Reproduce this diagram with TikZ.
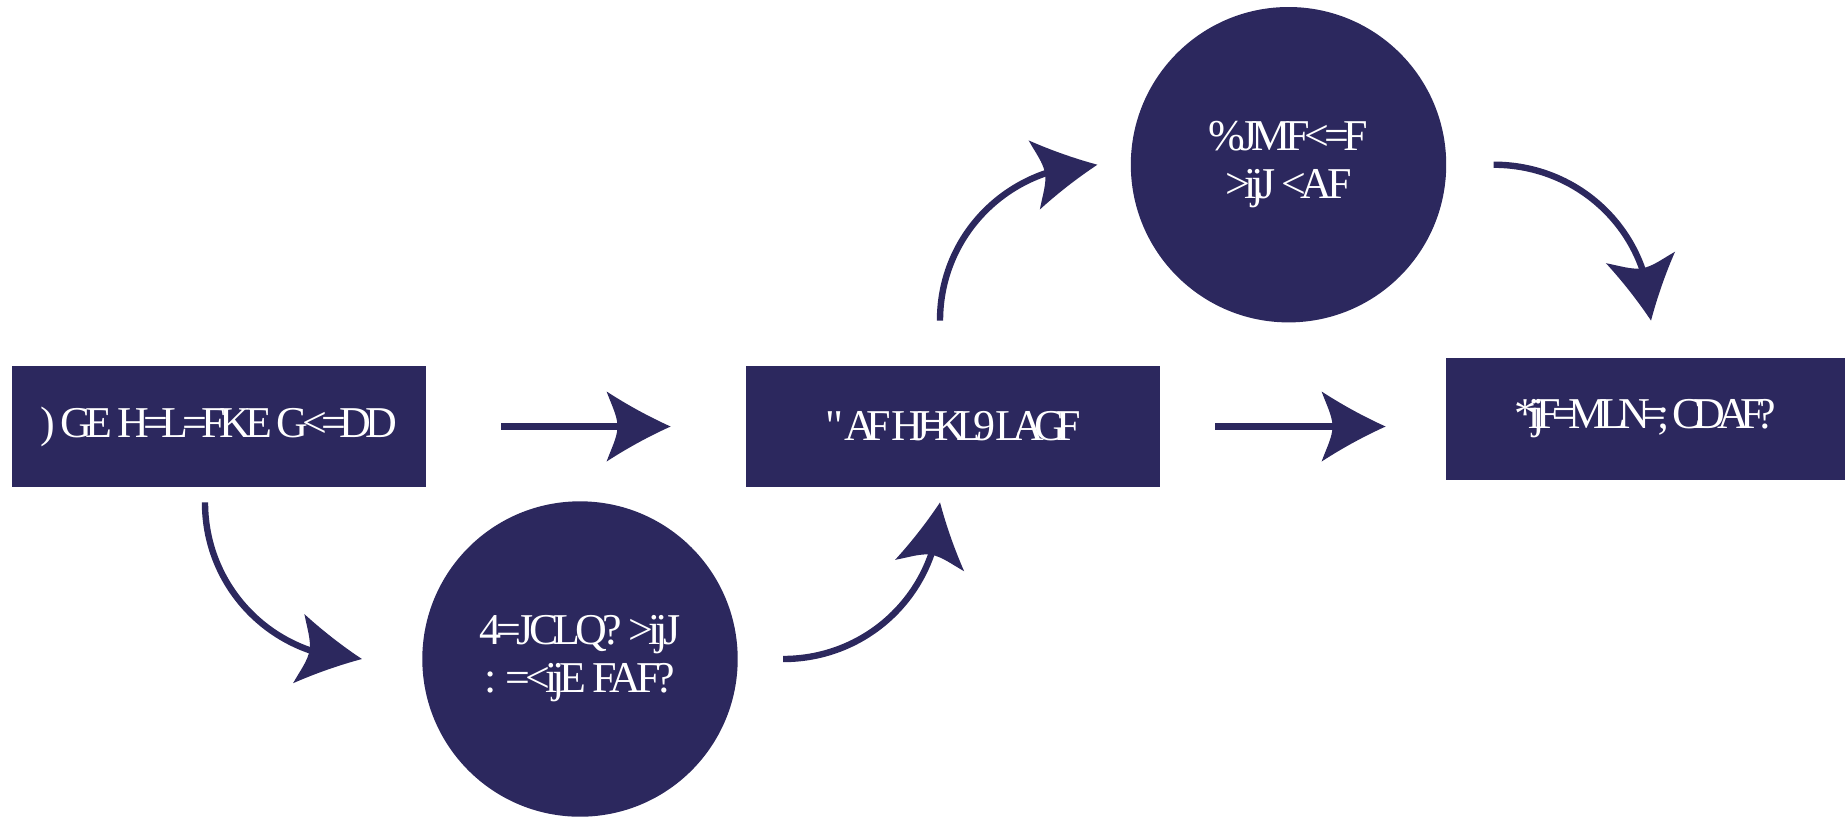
\documentclass[tikz,border=0pt]{standalone}
\usepackage{fontspec}
\setmainfont{Liberation Serif}[Ligatures=TeXOff]
\usetikzlibrary{arrows.meta,bending}
\definecolor{navy}{RGB}{44,40,94}

% swept arrow head with hollow sides
\pgfdeclarearrow{
  name = Swoop,
  parameters = {\the\pgfarrowlength,\the\pgfarrowwidth},
  setup code = {
    \pgfarrowssettipend{\pgfarrowlength}
    \pgfarrowssetbackend{0pt}
    \pgfarrowssetlineend{.25\pgfarrowlength}
    \pgfarrowssetvisualbackend{.17\pgfarrowlength}
    \pgfarrowsupperhullpoint{\pgfarrowlength}{0pt}
    \pgfarrowsupperhullpoint{0pt}{.5\pgfarrowwidth}
    \pgfarrowssavethe\pgfarrowlength
    \pgfarrowssavethe\pgfarrowwidth
  },
  drawing code = {
    \pgfpathmoveto{\pgfqpoint{\pgfarrowlength}{0pt}}
    \pgfpathcurveto{\pgfqpoint{.66\pgfarrowlength}{.14\pgfarrowwidth}}{\pgfqpoint{.32\pgfarrowlength}{.31\pgfarrowwidth}}{\pgfqpoint{0pt}{.5\pgfarrowwidth}}
    \pgfpathcurveto{\pgfqpoint{.08\pgfarrowlength}{.3\pgfarrowwidth}}{\pgfqpoint{.17\pgfarrowlength}{.15\pgfarrowwidth}}{\pgfqpoint{.17\pgfarrowlength}{0pt}}
    \pgfpathcurveto{\pgfqpoint{.17\pgfarrowlength}{-.15\pgfarrowwidth}}{\pgfqpoint{.08\pgfarrowlength}{-.3\pgfarrowwidth}}{\pgfqpoint{0pt}{-.5\pgfarrowwidth}}
    \pgfpathcurveto{\pgfqpoint{.32\pgfarrowlength}{-.31\pgfarrowwidth}}{\pgfqpoint{.66\pgfarrowlength}{-.14\pgfarrowwidth}}{\pgfqpoint{\pgfarrowlength}{0pt}}
    \pgfpathclose
    \pgfusepathqfill
  },
  defaults = {length=32pt,width=35pt}
}

\begin{document}
\begin{tikzpicture}[x=0.5pt,y=-0.5pt,
   every node/.style={fill=navy,text=white,align=center,inner sep=0pt,squeeze=-12},
   squeeze/.style={font=\fontsize{22}{24}\selectfont\addfontfeature{LetterSpace=#1}},
   box/.style={rectangle,minimum width=207pt,minimum height=60.5pt},
   disc/.style={circle,minimum size=157.7pt},
   flow/.style={draw=navy,line width=3.2pt,-{Swoop[flex]}}]

\useasboundingbox (0,0) rectangle (1845,816);

\node[box,squeeze=-14] (start) at (219,426.5) {) GE H=L=FKE G<=DD};
\node[box,squeeze=-23] (mid) at (953,426.5) {" AF HJ=KL9 LAGF};
\node[box,squeeze=-19,minimum width=199.5pt,minimum height=61pt] (goal) at (1645.5,419) {*ijF=MLN=; CDAF?};
\node[disc,squeeze=-11] (low) at (580,659) {4=JCLQ? >ijJ\\: =<ijE FAF?};
\node[disc,squeeze=-12] (high) at (1288.5,164.7) {\%JMF<=F\\>ijJ <AF};

% straight steps
\draw[flow,shorten <=37.5pt,shorten >=37.5pt] (start.east) -- (mid.west);
\draw[flow,shorten <=27.5pt,shorten >=30pt] (mid.east) -- (goal.west |- mid.east);

% detour below
\draw[flow] ([xshift=-7pt,yshift=-7.5pt]start.south) .. controls +(0,87) and +(-87,0) .. ([xshift=-30pt]low.west);
\draw[flow] ([xshift=22.5pt]low.east) .. controls +(87,0) and +(0,87) .. ([xshift=-6.5pt,yshift=-7.5pt]mid.south);

% detour above
\draw[flow] ([xshift=-6.5pt,yshift=22.5pt]mid.north) .. controls +(0,-87) and +(-87,0) .. ([xshift=-16.5pt]high.west);
\draw[flow] ([xshift=23.5pt]high.east) .. controls +(87,0) and +(0,-87) .. ([xshift=2.75pt,yshift=18.5pt]goal.north);

\end{tikzpicture}
\end{document}
